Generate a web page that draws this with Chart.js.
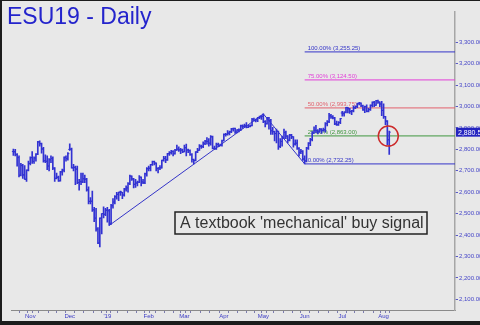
<!DOCTYPE html>
<html>
<head>
<meta charset="utf-8">
<script src="https://cdn.jsdelivr.net/npm/chart.js@4.4.1/dist/chart.umd.min.js"></script>
<style>
  html, body { margin: 0; padding: 0; background: #e8e8e8; }
  canvas { display: block; }
</style>
</head>
<body>
<canvas id="esChart" width="480" height="325"></canvas>
<script>
// daily bars, index 0 = Oct 19 2018 ... index 200 = Aug 6 2019
const opens = [
  2790, 2790, 2775, 2762, 2680, 2724, 2682, 2660, 2703,
  2735, 2762, 2744, 2760, 2778, 2835, 2826, 2802, 2747, 2745, 2722, 2752, 2758, 2712, 2665, 2670, 2654, 2695, 2703, 2763, 2757,
  2800, 2800, 2714, 2715, 2708, 2645, 2650, 2648, 2663, 2660, 2611, 2557, 2558, 2518, 2479, 2428, 2362, 2478, 2500, 2497,
  2515, 2513, 2455, 2537, 2554, 2579, 2590, 2600, 2600, 2587, 2615, 2620, 2640, 2675, 2662, 2637, 2643, 2647, 2670, 2648, 2645, 2686,
  2710, 2712, 2729, 2743, 2736, 2711, 2713, 2714, 2749, 2758, 2751, 2780, 2785, 2790, 2780, 2797, 2801, 2798, 2797,
  2789, 2808, 2797, 2794, 2776, 2753, 2748, 2788, 2796, 2815, 2813, 2827, 2838, 2837, 2829, 2859, 2805, 2803, 2823, 2815, 2820,
  2842, 2870, 2870, 2876, 2882, 2896, 2898, 2881, 2891, 2891, 2910, 2908, 2910, 2903, 2908, 2911, 2940, 2935, 2938, 2948, 2952,
  2955, 2930, 2920, 2948, 2935, 2887, 2883, 2874, 2884, 2814, 2837, 2853, 2879, 2862, 2843, 2867, 2859, 2825, 2829, 2805, 2786, 2791,
  2755, 2746, 2806, 2829, 2846, 2876, 2889, 2888, 2882, 2894, 2889, 2892, 2920, 2929, 2957, 2952, 2947, 2919, 2915, 2926,
  2970, 2967, 2974, 2996, 2990, 2977, 2980, 2994, 3000, 3014, 3016, 3004, 2985, 3000, 2978, 2986, 3006, 3020, 3006, 3028, 3021, 3012,
  2982, 2953, 2932, 2845
];
const highs = [
  2802, 2800, 2780, 2770, 2735, 2730, 2725, 2705, 2745,
  2765, 2790, 2765, 2780, 2838, 2840, 2830, 2810, 2775, 2770, 2757, 2770, 2765, 2715, 2690, 2675, 2698, 2708, 2765, 2770, 2785,
  2826, 2806, 2730, 2722, 2722, 2660, 2690, 2690, 2680, 2665, 2625, 2575, 2605, 2530, 2525, 2435, 2480, 2500, 2532, 2525,
  2530, 2520, 2543, 2570, 2584, 2600, 2601, 2605, 2600, 2618, 2630, 2645, 2680, 2677, 2665, 2660, 2652, 2678, 2672, 2660, 2690, 2715,
  2722, 2730, 2745, 2745, 2737, 2715, 2725, 2750, 2768, 2768, 2782, 2790, 2796, 2795, 2800, 2820, 2812, 2805, 2802,
  2820, 2825, 2802, 2798, 2780, 2755, 2790, 2805, 2822, 2820, 2835, 2842, 2855, 2850, 2865, 2862, 2815, 2830, 2830, 2825, 2843,
  2873, 2875, 2888, 2885, 2898, 2900, 2899, 2893, 2896, 2913, 2915, 2918, 2925, 2912, 2915, 2945, 2946, 2942, 2950, 2956, 2958,
  2966, 2935, 2950, 2950, 2940, 2903, 2885, 2895, 2885, 2850, 2862, 2895, 2885, 2865, 2870, 2870, 2860, 2845, 2845, 2808, 2800, 2795,
  2770, 2810, 2832, 2852, 2883, 2905, 2912, 2892, 2898, 2897, 2900, 2925, 2935, 2968, 2964, 2958, 2950, 2932, 2930, 2945,
  2978, 2975, 2997, 2997, 2992, 2982, 3002, 3004, 3016, 3020, 3018, 3007, 3002, 3008, 2992, 3008, 3022, 3025, 3029, 3030, 3022, 3025,
  3013, 2955, 2935, 2885
];
const lows = [
  2772, 2770, 2722, 2672, 2676, 2665, 2660, 2650, 2700,
  2728, 2735, 2735, 2745, 2775, 2815, 2782, 2740, 2738, 2705, 2700, 2738, 2705, 2650, 2662, 2650, 2652, 2680, 2695, 2745, 2750,
  2795, 2712, 2700, 2635, 2640, 2610, 2635, 2645, 2645, 2605, 2545, 2545, 2510, 2462, 2418, 2360, 2345, 2405, 2480, 2490,
  2460, 2445, 2450, 2525, 2545, 2568, 2560, 2585, 2570, 2582, 2605, 2600, 2635, 2655, 2620, 2622, 2630, 2645, 2630, 2640, 2640, 2675,
  2700, 2700, 2725, 2728, 2700, 2690, 2705, 2712, 2745, 2738, 2748, 2772, 2778, 2770, 2778, 2795, 2790, 2780, 2785,
  2788, 2770, 2785, 2772, 2740, 2732, 2746, 2785, 2795, 2805, 2808, 2822, 2825, 2815, 2820, 2802, 2800, 2800, 2812, 2816, 2815,
  2840, 2862, 2866, 2868, 2878, 2885, 2875, 2877, 2882, 2888, 2898, 2902, 2900, 2902, 2905, 2910, 2932, 2928, 2930, 2944, 2940,
  2925, 2905, 2918, 2895, 2870, 2870, 2840, 2830, 2800, 2808, 2815, 2850, 2850, 2830, 2840, 2850, 2810, 2820, 2800, 2768, 2780, 2748,
  2732, 2742, 2800, 2818, 2840, 2875, 2878, 2872, 2880, 2875, 2885, 2880, 2910, 2925, 2945, 2942, 2915, 2912, 2912, 2920,
  2955, 2955, 2970, 2970, 2968, 2962, 2975, 2990, 2995, 3008, 3000, 2982, 2972, 2975, 2975, 2982, 2998, 3000, 3005, 3015, 3000, 2958,
  2945, 2915, 2822, 2776
];
const closes = [
  2788, 2777, 2762, 2679, 2726, 2680, 2661, 2703, 2734,
  2761, 2744, 2760, 2777, 2835, 2828, 2802, 2747, 2744, 2723, 2752, 2758, 2713, 2665, 2670, 2653, 2695, 2703, 2763, 2757, 2780,
  2802, 2714, 2717, 2708, 2645, 2649, 2648, 2663, 2662, 2611, 2557, 2558, 2518, 2479, 2428, 2363, 2479, 2500, 2497, 2517,
  2515, 2452, 2537, 2554, 2579, 2590, 2600, 2601, 2587, 2615, 2621, 2640, 2675, 2662, 2637, 2643, 2647, 2670, 2648, 2645, 2686, 2710,
  2712, 2729, 2743, 2736, 2711, 2713, 2714, 2749, 2758, 2751, 2780, 2785, 2790, 2780, 2797, 2801, 2798, 2797, 2789,
  2808, 2797, 2794, 2776, 2753, 2748, 2788, 2796, 2815, 2813, 2827, 2838, 2837, 2829, 2859, 2805, 2803, 2823, 2815, 2820, 2839,
  2870, 2870, 2876, 2882, 2896, 2898, 2881, 2891, 2891, 2910, 2908, 2910, 2903, 2908, 2911, 2940, 2935, 2938, 2948, 2952, 2955,
  2930, 2920, 2948, 2935, 2887, 2883, 2874, 2884, 2814, 2837, 2853, 2879, 2862, 2843, 2867, 2859, 2825, 2829, 2805, 2786, 2791, 2755,
  2746, 2806, 2829, 2846, 2876, 2889, 2888, 2882, 2894, 2889, 2892, 2920, 2929, 2957, 2952, 2947, 2919, 2915, 2926, 2944,
  2967, 2974, 2996, 2990, 2977, 2980, 2994, 3000, 3014, 3016, 3004, 2985, 3000, 2978, 2986, 3006, 3020, 3006, 3028, 3021, 3012, 2982,
  2953, 2932, 2845, 2880.5
];

// axis ticks (bar index positions) and labels
const monthStarts = [9, 30, 50, 72, 91, 112, 133, 155, 175, 197];
const monthLabels = ['Nov', 'Dec', "'19", 'Feb', 'Mar', 'Apr', 'May', 'Jun', 'Jul', 'Aug'];
const weekStarts = [1, 6, 11, 16, 21, 25, 30, 35, 40, 45, 49, 53, 58, 63, 68, 73, 78, 83, 87, 92, 97, 102, 107,
  112, 117, 122, 126, 131, 136, 141, 146, 151, 155, 160, 165, 170, 175, 179, 184, 189, 194, 199];
const priceTicks = [2100, 2200, 2300, 2400, 2500, 2600, 2700, 2800, 2900, 3000, 3100, 3200, 3300];

// fibonacci levels drawn from the June low
const fibLevels = [2732.25, 2863.00, 2993.75, 3124.50, 3255.25];
const fibNames = ['0.00%', '25.00%', '50.00%', '75.00%', '100.00%'];
const fibColors = ['#3434c8', '#3f973f', '#e2606c', '#e23ed8', '#3434c8'];
const fibFrom = 155;
const fibTo = 235;

const risingLine = [{x: 51, y: 2445}, {x: 133, y: 2966}];
const fallingLine = [{x: 133, y: 2966}, {x: 155, y: 2732.25}];
const signalSpot = [{x: 199.5, y: 2862}];
const lastPrice = 2880.5;

const FONT = "'Liberation Sans', Arial, sans-serif";
const BLUE = '#3232d2';

const fmt = (v, d) => v.toLocaleString('en-US', {minimumFractionDigits: d, maximumFractionDigits: d});

const barData = lows.map((l, i) => ({x: i, y: [l, highs[i]]}));

const datasets = [
  {
    type: 'bar',
    data: barData,
    backgroundColor: BLUE,
    barThickness: 1,
    grouped: false,
    order: 1
  }
];
fibLevels.forEach((lv, k) => {
  datasets.push({
    type: 'line',
    data: [{x: fibFrom, y: lv}, {x: fibTo, y: lv}],
    borderColor: fibColors[k],
    borderWidth: 1,
    pointRadius: 0,
    order: 3
  });
});
[risingLine, fallingLine].forEach(seg => {
  datasets.push({
    type: 'line',
    data: seg,
    borderColor: '#3434c8',
    borderWidth: 1,
    pointRadius: 0,
    order: 2
  });
});
datasets.push({
  type: 'scatter',
  data: signalSpot,
  pointRadius: 10,
  pointBorderWidth: 1.5,
  pointBorderColor: '#cc2b2b',
  pointBackgroundColor: 'rgba(0,0,0,0)',
  order: 0
});

const decor = {
  id: 'decor',
  beforeDraw(chart) {
    const ctx = chart.ctx;
    ctx.save();
    ctx.fillStyle = '#e8e8e8';
    ctx.fillRect(0, 0, chart.width, chart.height);
    ctx.restore();
  },
  beforeDatasetsDraw(chart) {
    const ctx = chart.ctx;
    const xs = chart.scales.x, ys = chart.scales.y;
    ctx.save();
    ctx.font = '6px ' + FONT;
    ctx.textBaseline = 'alphabetic';
    fibLevels.forEach((lv, k) => {
      ctx.fillStyle = fibColors[k];
      ctx.fillText(fibNames[k] + ' (' + fmt(lv, 2) + ')', xs.getPixelForValue(fibFrom) + 3, ys.getPixelForValue(lv) - 2);
    });
    // title
    ctx.font = '23px ' + FONT;
    ctx.fillStyle = '#2424cc';
    ctx.fillText('ESU19 - Daily', 7, 23.5);
    ctx.restore();
  },
  afterDatasetsDraw(chart) {
    const ctx = chart.ctx;
    const xs = chart.scales.x, ys = chart.scales.y;
    ctx.save();
    // open / close ticks
    ctx.strokeStyle = BLUE;
    ctx.lineWidth = 1;
    ctx.beginPath();
    opens.forEach((o, i) => {
      const x = xs.getPixelForValue(i);
      const yo = ys.getPixelForValue(o);
      const yc = ys.getPixelForValue(closes[i]);
      ctx.moveTo(x - 1.5, yo); ctx.lineTo(x, yo);
      ctx.moveTo(x, yc); ctx.lineTo(x + 1.5, yc);
    });
    ctx.stroke();

    // annotation box
    ctx.fillStyle = '#e8e8e8';
    ctx.fillRect(175, 212, 252, 22);
    ctx.strokeStyle = '#222';
    ctx.lineWidth = 1.5;
    ctx.strokeRect(175, 212, 252, 22);
    ctx.font = '16px ' + FONT;
    ctx.fillStyle = '#333';
    ctx.textBaseline = 'middle';
    ctx.fillText("A textbook 'mechanical' buy signal", 180, 223.5);

    // last price marker on the axis
    const yp = ys.getPixelForValue(lastPrice);
    ctx.fillStyle = '#2424c0';
    ctx.fillRect(chart.chartArea.right + 1, yp - 4.5, 30, 9);
    ctx.fillStyle = '#fff';
    ctx.font = '7px ' + FONT;
    ctx.fillText(fmt(lastPrice, 1), chart.chartArea.right + 3, yp + 0.5);
    ctx.restore();
  },
  afterDraw(chart) {
    const ctx = chart.ctx;
    ctx.save();
    ctx.fillStyle = '#1c1c1c';
    ctx.fillRect(0, 0, 2, chart.height);
    ctx.fillRect(0, 0, chart.width, 1);
    ctx.fillRect(0, 321, chart.width, 4);
    ctx.restore();
  }
};

new Chart(document.getElementById('esChart'), {
  type: 'bar',
  data: {datasets: datasets},
  options: {
    responsive: false,
    animation: false,
    layout: {padding: {left: 3, top: 1, right: 0, bottom: 0}},
    plugins: {legend: {display: false}, tooltip: {enabled: false}},
    scales: {
      x: {
        type: 'linear',
        min: -1,
        max: 235,
        offset: false,
        afterBuildTicks(scale) {
          const all = Array.from(new Set(weekStarts.concat(monthStarts))).sort((a, b) => a - b);
          scale.ticks = all.map(v => ({value: v}));
        },
        afterFit(scale) { scale.height = 15; },
        grid: {drawOnChartArea: false, drawTicks: true, tickLength: 3, color: '#7c7cae'},
        border: {display: true, color: '#8a8a8a', width: 1},
        ticks: {
          autoSkip: false,
          maxRotation: 0,
          padding: 0,
          color: '#3a3ac4',
          font: {family: FONT, size: 6},
          callback(v) {
            const k = monthStarts.indexOf(v);
            return k >= 0 ? monthLabels[k] : '';
          }
        }
      },
      y: {
        position: 'right',
        min: 2050,
        max: 3444,
        afterBuildTicks(scale) {
          scale.ticks = priceTicks.map(v => ({value: v}));
        },
        afterFit(scale) { scale.width = 25; },
        grid: {drawOnChartArea: false, drawTicks: true, tickLength: 3, color: '#5a5ac8'},
        border: {display: true, color: '#a6a6a6', width: 1.5},
        ticks: {
          padding: 1,
          color: '#4646c8',
          font: {family: FONT, size: 6},
          callback(v) { return fmt(v, 2); }
        }
      }
    }
  },
  plugins: [decor]
});
</script>
</body>
</html>
